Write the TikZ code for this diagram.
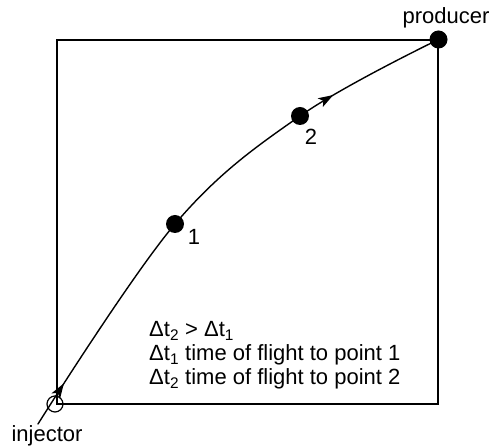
\documentclass[tikz,border=0pt]{standalone}
\usepackage{fontspec}
\setmainfont{Liberation Sans}
\usetikzlibrary{arrows.meta,decorations.markings}
\begin{document}
\begin{tikzpicture}[x=1pt,y=1pt,
  lbl/.style={font=\fontsize{22}{24}\selectfont, inner sep=0pt},
  dot/.style={circle, fill=black, inner sep=0pt, minimum size=18pt},
  flowarrow/.style={line width=1.4pt, line cap=round,
    postaction={decorate, decoration={markings,
      mark=at position 0.085 with {\arrow{Stealth[length=15pt,width=10pt,inset=3.5pt]}},
      mark=at position 0.79 with {\arrow{Stealth[length=15pt,width=10pt,inset=3.5pt]}}}}}
]
\useasboundingbox (0,0) rectangle (493,447);
\node[draw, line width=1.5pt, inner sep=0pt, minimum width=381pt, minimum height=364pt, anchor=south west] (box) at (56,42) {};
\node[circle, draw, line width=1.2pt, inner sep=0pt, minimum size=16pt] (inj) at (55,43) {};
\node[dot] (prod) at (box.north east) {};
\node[dot] (p1) at (175,223) {};
\node[dot] (p2) at (300,331) {};
\coordinate (start) at (38,23);
\draw[flowarrow] plot[smooth, tension=0.6] coordinates {(start) (p1.center) (p2.center) (prod.center)};
\node[lbl, anchor=base] (l1) at (194,202) {1};
\node[lbl, anchor=base] (l2) at (311,302) {2};
\node[lbl, anchor=base] (lprod) at (446,423) {producer};
\node[lbl, anchor=base] (linj) at (47,5) {injector};
\node[lbl, anchor=base west] (t1) at (149,110) {Δt\textsubscript{2} > Δt\textsubscript{1}};
\node[lbl, anchor=base west] (t2) at (149,86) {Δt\textsubscript{1} time of flight to point 1};
\node[lbl, anchor=base west] (t3) at (149,62.5) {Δt\textsubscript{2} time of flight to point 2};
\end{tikzpicture}
\end{document}
